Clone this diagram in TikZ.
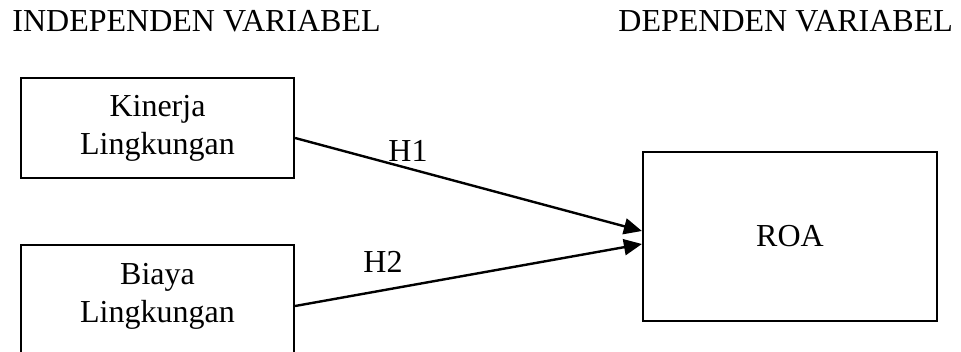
\documentclass[tikz,border=0pt]{standalone}
\usepackage{fontspec}
\setmainfont{Liberation Serif}
\usetikzlibrary{arrows.meta,calc}
\begin{document}
\begin{tikzpicture}[x=0.5pt,y=-0.5pt,
  every node/.style={font=\fontsize{16pt}{19pt}\selectfont, inner sep=0pt},
  varbox/.style={draw, line width=1.1pt, minimum width=136.5pt, minimum height=50pt, align=center},
  heading/.style={anchor=base west},
  hyp/.style={anchor=base west},
  link/.style={line width=1.2pt, -{Triangle[length=9pt,width=8pt]}}]
  \useasboundingbox (0,0) rectangle (961,352);
  \clip (0,0) rectangle (961,352);

  % column headings
  \node[heading] (hind) at (12,32) {INDEPENDEN VARIABEL};
  \node[heading] (hdep) at (618,32) {DEPENDEN VARIABEL};

  % independent variables
  \node[varbox] (kinerja) at (157.5,128) {Kinerja\\Lingkungan};
  \node[draw, line width=1.1pt, minimum width=136.5pt, minimum height=70pt, anchor=north] (biaya) at (157.5,244) {};
  \node[align=center] (biayatext) at (157.5,296.5) {Biaya\\Lingkungan};

  % dependent variable
  \node[draw, line width=1.1pt, minimum width=147pt, minimum height=84.5pt] (roa) at (790,236.5) {ROA};

  % hypotheses
  \coordinate (k1) at ($(kinerja.east)+(0,10)$);
  \coordinate (b1) at ($(biaya.north east)+(0,62)$);
  \coordinate (r1) at ($(roa.west)+(0,-5.5)$);
  \coordinate (r2) at ($(roa.west)+(0,7.5)$);
  \draw[link] (k1) -- (r1);
  \draw[link] (b1) -- (r2);
  \node[hyp] (h1) at (388,162) {H1};
  \node[hyp] (h2) at (363,272) {H2};
\end{tikzpicture}
\end{document}
